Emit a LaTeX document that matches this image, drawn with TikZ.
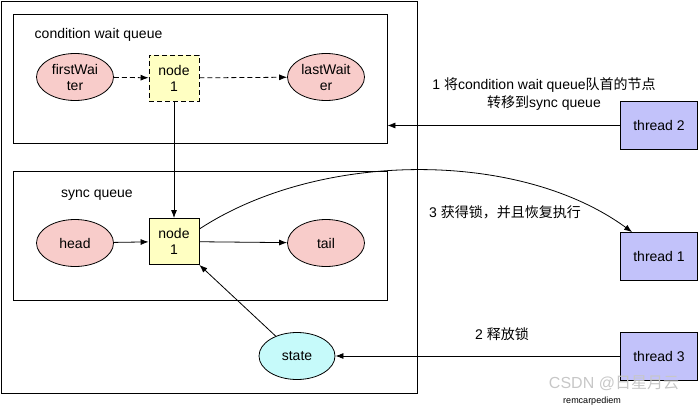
\documentclass[tikz,border=0pt]{standalone}
\usepackage{fontspec}
\setmainfont{Liberation Sans}
\newfontfamily\cjk{Noto Sans CJK SC}
\usepackage{tikz}
\usetikzlibrary{shapes.geometric, arrows.meta, calc}
\definecolor{waiter-pink}{HTML}{F8CCCA}
\definecolor{node-yellow}{HTML}{FFFFC2}
\definecolor{state-cyan}{HTML}{C6FAFA}
\definecolor{thread-blue}{HTML}{C2C2FA}

\tikzset{
    queuebox/.style={draw, minimum width=374pt, minimum height=129pt},
    waiter/.style={ellipse, draw, fill=waiter-pink, minimum width=77pt, minimum height=47pt, inner sep=0pt, align=center},
    qnode/.style={draw, fill=node-yellow, minimum width=50pt, minimum height=46pt, inner sep=0pt, align=center},
    threadbox/.style={draw, fill=thread-blue, minimum width=77pt, minimum height=48pt},
    arr/.style={-{Latex[length=8pt,width=6pt]}},
    waitline/.style={dash pattern=on 5pt off 3pt}
}

\begin{document}
\begin{tikzpicture}[x=1pt, y=-1pt, line width=0.8pt, font=\fontsize{14}{16}\selectfont]
    \useasboundingbox (0,0) rectangle (698,409);

    % Frames
    \node[draw, minimum width=416pt, minimum height=392pt] (outer) at (209,197) {};
    \node[queuebox] (condbox) at (200,78.5) {};
    \node[queuebox] (syncbox) at (200,235.5) {};
    \node[anchor=west] (condlabel) at (31,35) {condition wait queue};
    \node (synclabel) at (97,195) {sync queue};

    % Condition wait queue
    \node[waiter] (first) at (75,77) {firstWai\\ter};
    \node[qnode, waitline] (condnode) at (174,78) {node\\1};
    \node[waiter] (last) at (326,77) {lastWait\\er};
    \draw[arr, waitline] (first) -- (condnode);
    \draw[arr, waitline] (condnode) -- (last);

    % Sync queue
    \node[waiter] (head) at (75,243) {head};
    \node[qnode] (syncnode) at (174,241.5) {node\\1};
    \node[waiter] (tail) at (326,243) {tail};
    \draw[arr] (head) -- (syncnode);
    \draw[arr] (syncnode) -- (tail);
    \draw[arr] (condnode) -- (syncnode);

    % State
    \node[ellipse, draw, fill=state-cyan, minimum width=76pt, minimum height=47pt, inner sep=0pt] (state) at (297,356) {state};
    \draw[arr] (state) -- (syncnode.south east);

    % Threads
    \foreach \id/\y in {2/125.5, 1/256.5, 3/356} {
        \node[threadbox] (thread\id) at (659,\y) {thread \id};
    }
    \draw[arr] (thread2.west) -- (thread2.west -| condbox.east);
    \draw[arr] (thread3) -- (state);
    \draw[arr] (syncnode.east |- 0,229) .. controls (320,150) and (520,150) .. ([xshift=12pt]thread1.north west);

    % Step labels
    \node[align=center, font=\fontsize{14}{18}\selectfont] (movelabel) at (544,94) {1 {\cjk 将}condition wait queue{\cjk 队首的节点}\\{\cjk 转移到}sync queue};
    \node (acquirelabel) at (505,212) {3 {\cjk 获得锁，并且恢复执行}};
    \node (releaselabel) at (502,334) {2 {\cjk 释放锁}};

    % Watermark
    \node[text=black!22, font=\fontsize{16}{18}\selectfont, inner sep=0pt] (mark) at (614,383) {CSDN @{\cjk 日星月云}};
    \node[font=\fontsize{9}{10}\selectfont, inner sep=0pt] (author) at (592,401) {remcarpediem};
\end{tikzpicture}
\end{document}
